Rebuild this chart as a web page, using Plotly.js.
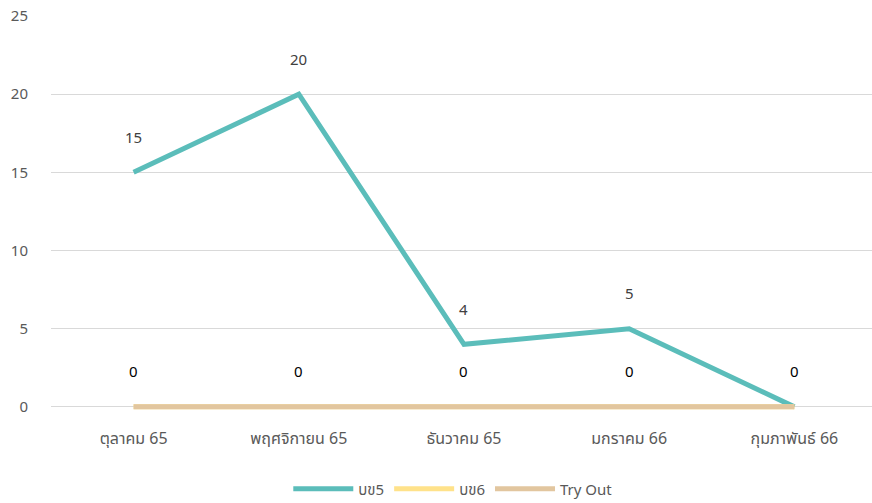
<!DOCTYPE html>
<html>
<head>
<meta charset="utf-8">
<script src="https://cdn.plot.ly/plotly-3.0.1.min.js"></script>
<style>html,body{margin:0;padding:0;background:#fff;}#chart{width:872px;height:503px;}</style>
</head>
<body>
<div id="chart"></div>
<script>
var categories = ["ตุลาคม 65", "พฤศจิกายน 65", "ธันวาคม 65", "มกราคม 66", "กุมภาพันธ์ 66"];
var seriesNames = ["บข5", "บข6", "Try Out"];
var bk5 = [15, 20, 4, 5, 0];
var bk6 = [0, 0, 0, 0, 0];
var tryOut = [0, 0, 0, 0, 0];
var yTicks = [0, 5, 10, 15, 20, 25];

var colors = ["#5bbdba", "#ffe28a", "#e2c69f"];
var allSeries = [bk5, bk6, tryOut];
var fontFam = "'Noto Sans Thai', 'Noto Sans', 'DejaVu Sans', sans-serif";

var traces = allSeries.map(function (vals, i) {
  return {
    x: categories, y: vals, type: "scatter", mode: "lines",
    name: seriesNames[i],
    line: {color: colors[i], width: 5},
    hoverinfo: "skip"
  };
});

var annotations = [];
var seen = {};
allSeries.forEach(function (vals, i) {
  vals.forEach(function (v, j) {
    var key = j + "|" + v;
    if (seen[key]) return;
    seen[key] = true;
    annotations.push({
      x: categories[j], y: v, xref: "x", yref: "y",
      text: String(v), showarrow: false, yshift: 34,
      font: {family: fontFam, size: 15, color: v === 0 ? "#000000" : "#404040"}
    });
  });
});

var layout = {
  width: 872, height: 503,
  margin: {l: 51, r: 0, t: 16, b: 93},
  paper_bgcolor: "#ffffff", plot_bgcolor: "#ffffff",
  font: {family: fontFam, size: 14, color: "#595959"},
  showlegend: true,
  legend: {orientation: "h", x: 0.49, xanchor: "center", xref: "paper",
    y: 0.028, yanchor: "middle", yref: "container", itemwidth: 60,
    font: {family: fontFam, size: 15, color: "#595959"}, traceorder: "normal"},
  xaxis: {type: "category", range: [-0.5, 4.47], showgrid: false, zeroline: false,
    showline: false, ticks: "", ticklabelstandoff: 17, fixedrange: true,
    tickfont: {family: fontFam, size: 16, color: "#595959"}},
  yaxis: {range: [-0.2, 25], tickvals: yTicks, gridcolor: "#d9d9d9", gridwidth: 1,
    zeroline: false, showline: false, ticks: "", ticklabelstandoff: 22, fixedrange: true,
    tickfont: {family: fontFam, size: 15, color: "#595959"}},
  annotations: annotations
};

Plotly.newPlot("chart", traces, layout, {displayModeBar: false, staticPlot: true});
</script>
</body>
</html>
